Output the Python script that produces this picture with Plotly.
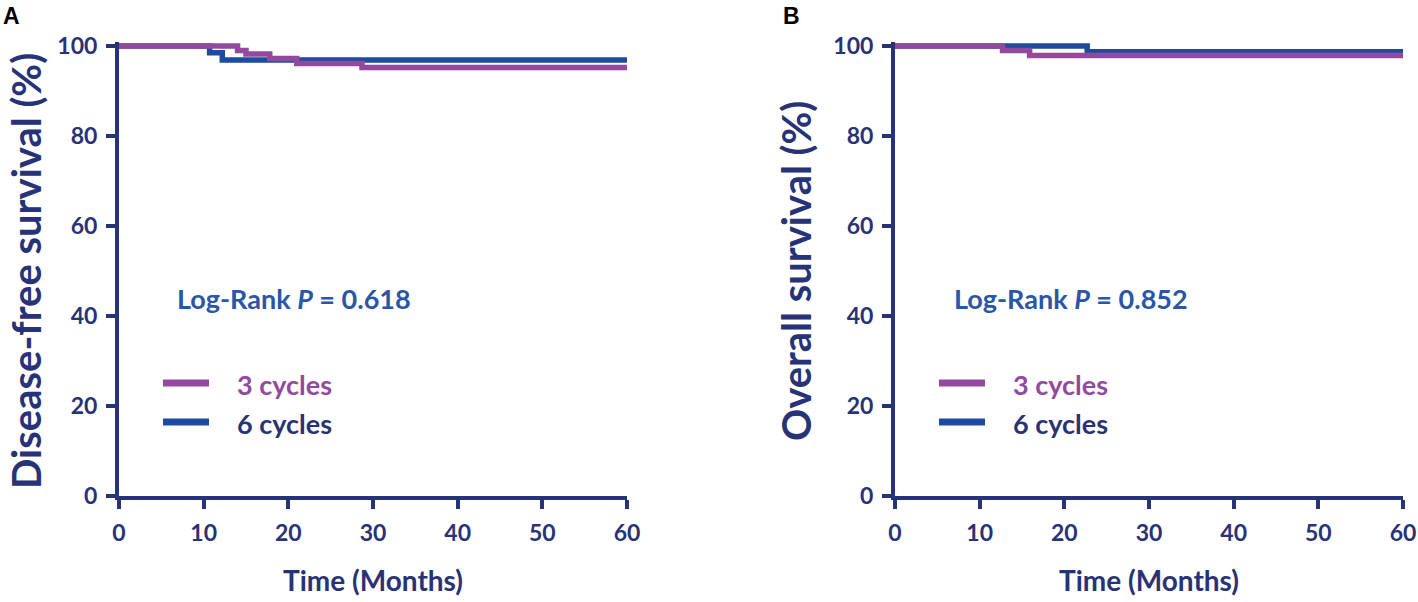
import plotly.graph_objects as go

# ---- data ----
dfs_time_3 = [0, 14.0, 15.0, 17.8, 21.0, 28.7, 60]
dfs_surv_3 = [100, 99.0, 98.2, 97.2, 96.1, 95.2, 95.2]
dfs_time_6 = [0, 10.7, 12.2, 60]
dfs_surv_6 = [100, 98.5, 96.9, 96.9]

os_time_3 = [0, 12.7, 15.9, 60]
os_surv_3 = [100, 99.0, 97.9, 97.9]
os_time_6 = [0, 22.7, 60]
os_surv_6 = [100, 98.7, 98.7]

x_ticks = [0, 10, 20, 30, 40, 50, 60]
y_ticks = [0, 20, 40, 60, 80, 100]
series_names = ["3 cycles", "6 cycles"]
p_values = ["0.618", "0.852"]
y_titles = ["Disease-free survival (%)", "Overall survival (%)"]
panel_letters = ["A", "B"]

NAVY = "#283276"
PURPLE = "#934A9E"
BLUE = "#1C4BA0"
PBLUE = "#2A56A8"
FONT = "Lato"

W, H = 1418, 602
def px(xp): return xp / W
def py(yp): return 1 - yp / H

fig = go.Figure()

panels = [
    ("x", "y", dfs_time_3, dfs_surv_3, dfs_time_6, dfs_surv_6),
    ("x2", "y2", os_time_3, os_surv_3, os_time_6, os_surv_6),
]
for xa, ya, t3, s3, t6, s6 in panels:
    fig.add_trace(go.Scatter(x=t6, y=s6, mode="lines", line=dict(color=BLUE, width=5.5, shape="hv"),
                             name=series_names[1], showlegend=False, xaxis=xa, yaxis=ya))
    fig.add_trace(go.Scatter(x=t3, y=s3, mode="lines", line=dict(color=PURPLE, width=5.5, shape="hv"),
                             name=series_names[0], showlegend=False, xaxis=xa, yaxis=ya))

ydom = [py(496), py(41.5)]
xdomA = [px(119), px(627)]
xdomB = [px(895), px(1403)]

axis_common = dict(showline=True, linecolor=NAVY, linewidth=4, ticks="outside", ticklen=9,
                   tickwidth=3.5, tickcolor=NAVY, showgrid=False, zeroline=False, automargin=False,
                   ticklabelstandoff=4,
                   tickfont=dict(family=FONT, size=23, color=NAVY, weight="bold"))

fig.update_layout(
    template="none",
    width=W, height=H, autosize=False, margin=dict(l=0, r=0, t=0, b=0, pad=0),
    paper_bgcolor="white", plot_bgcolor="white", showlegend=False,
    xaxis=dict(domain=xdomA, range=[0, 60], tickvals=x_ticks, anchor="y", **axis_common),
    yaxis=dict(domain=ydom, range=[0, 101], tickvals=y_ticks, anchor="x", **axis_common),
    xaxis2=dict(domain=xdomB, range=[0, 60], tickvals=x_ticks, anchor="y2", **axis_common),
    yaxis2=dict(domain=ydom, range=[0, 101], tickvals=y_ticks, anchor="x2", **axis_common),
)

annotations = []
shapes = []
offsets = [0, 776]
title_x = [26, 796]
title_y = [271, 271]
for i in range(2):
    off = offsets[i]
    # panel letter
    annotations.append(dict(text=panel_letters[i], x=px(1 + off + (4 if i else 0)), y=py(15.5), xref="paper", yref="paper",
                            xanchor="left", yanchor="middle", showarrow=False,
                            font=dict(family="Liberation Sans", size=23, color="black", weight="bold")))
    # y title
    annotations.append(dict(text=y_titles[i], x=px(title_x[i]), y=py(title_y[i]), xref="paper", yref="paper",
                            xanchor="center", yanchor="middle", textangle=-90, showarrow=False,
                            font=dict(family=FONT, size=40, color=NAVY, weight="bold")))
    # x title
    annotations.append(dict(text="Time (Months)", x=px(373 + off), y=py(580), xref="paper", yref="paper",
                            xanchor="center", yanchor="middle", showarrow=False,
                            font=dict(family=FONT, size=28, color=NAVY, weight="bold")))
    # log-rank
    annotations.append(dict(text=f"Log-Rank <i>P</i> = {p_values[i]}", x=px(175 + off + (1 if i else 0)), y=py(298),
                            xref="paper", yref="paper", xanchor="left", yanchor="middle", showarrow=False,
                            font=dict(family=FONT, size=27, color=PBLUE, weight="bold")))
    # legend
    leg_colors = [PURPLE, BLUE]
    txt_colors = [PURPLE, NAVY]
    leg_y = [383, 422]
    for k in range(2):
        shapes.append(dict(type="line", xref="paper", yref="paper",
                           x0=px(163 + off), x1=px(209 + off), y0=py(leg_y[k]), y1=py(leg_y[k]),
                           line=dict(color=leg_colors[k], width=7)))
        annotations.append(dict(text=series_names[k], x=px(235 + off), y=py(leg_y[k] + 1), xref="paper", yref="paper",
                                xanchor="left", yanchor="middle", showarrow=False,
                                font=dict(family=FONT, size=27, color=txt_colors[k], weight="bold")))

fig.update_layout(annotations=annotations, shapes=shapes)
fig.write_html("out.html", config={"displayModeBar": False},
               post_script="document.body.style.margin='0';document.body.style.overflow='hidden';")
